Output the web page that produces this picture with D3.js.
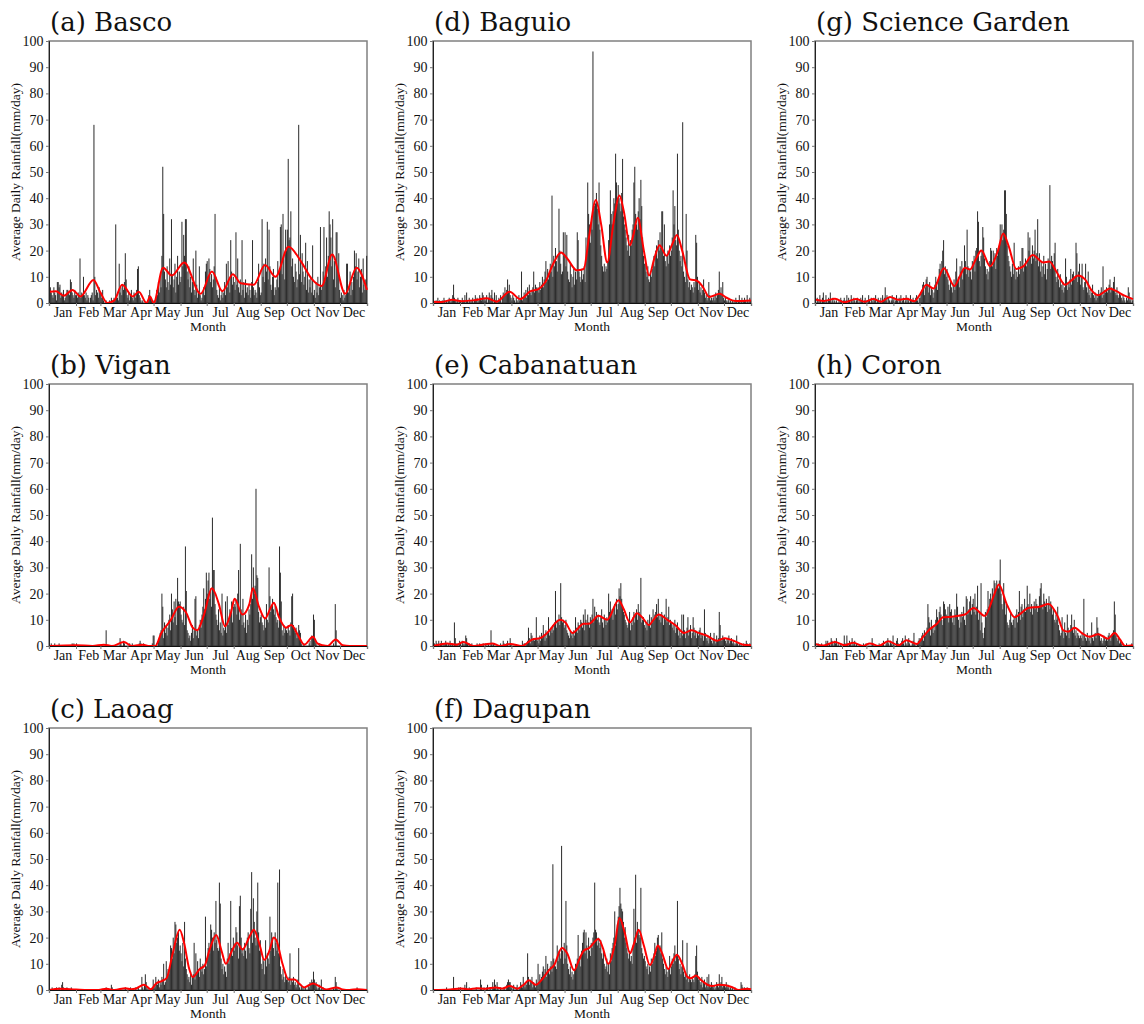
<!DOCTYPE html>
<html>
<head>
<meta charset="utf-8">
<script src="https://cdn.jsdelivr.net/npm/d3@7"></script>
<style>
  body { margin: 0; background: #fff; }
  svg { display: block; }
</style>
</head>
<body>
<svg id="fig" width="1144" height="1024"></svg>
<script>
// month labels and lengths (non-leap year)
const monthNames = ["Jan","Feb","Mar","Apr","May","Jun","Jul","Aug","Sep","Oct","Nov","Dec"];
const monthDays = [31,28,31,30,31,30,31,31,30,31,30,31];
const yTicks = [0,10,20,30,40,50,60,70,80,90,100];

// daily rainfall, one row per month
const bascoRain = [
  [5,6,4,3,2,6,4,3,1,8,8,6,7,2,4,3,5,1,2,3,5,5,4,3,9,8,4,3,2,5,3],
  [3,2,4,3,17,2,4,3,10,3,2,4,1,3,2,0,2,3,4,1,68,10,3,5,4,2,6,4],
  [4,2,5,1,0,0,1,0,0,0,1,0,2,0,1,2,1,30,3,2,1,15,4,6,3,7,5,8,19,9,3],
  [2,4,1,3,5,2,1,4,3,2,5,13,14,3,2,1,0,1,0,0,0,0,0,1,3,5,2,1,0,0],
  [1,0,2,5,3,8,4,10,6,18,52,34,12,9,6,14,8,5,17,7,32,11,6,9,15,4,10,18,7,12,8],
  [10,31,14,26,18,32,32,12,9,14,6,10,4,8,17,5,3,20,7,2,4,14,3,1,2,4,6,3,12,15],
  [16,10,17,13,8,11,6,9,14,34,10,5,3,2,6,1,3,5,2,4,8,3,15,6,16,9,4,24,12,7,10],
  [8,5,27,7,17,6,4,9,3,24,5,8,2,9,4,6,3,7,5,2,8,24,6,3,5,4,2,8,15,6,3],
  [4,32,10,15,8,17,12,31,9,28,14,7,5,10,13,3,6,5,9,16,6,12,29,30,11,34,18,9,28,20],
  [28,55,24,25,35,14,17,10,8,15,12,6,9,68,11,26,8,19,12,7,10,23,5,16,4,9,6,10,4,22,3],
  [5,2,8,4,10,3,6,29,5,7,12,29,8,14,25,10,18,35,30,25,14,32,9,16,6,27,27,12,19,5],
  [2,4,3,1,5,2,3,15,15,4,6,12,3,8,5,10,20,14,19,9,12,17,6,10,13,4,17,7,5,9,18]
];
const viganRain = [
  [0,0,1,0,0,0,1,0,0,0,0,1,0,0,0,0,0,0,0,0,0,0,0,0,0,0,1,0,1,0,0],
  [1,0,0,0,0,0,0,0,0,0,0,0,0,0,0,0,0,0,0,0,0,0,0,0,0,0,0,0],
  [0,0,0,0,0,0,6,0,0,0,0,0,0,0,0,0,0,0,0,0,0,0,3,1,0,0,2,1,0,0,0],
  [0,0,1,0,0,1,0,0,0,0,0,0,0,1,2,1,0,0,1,0,0,0,0,0,0,0,0,0,1,4],
  [4,0,0,1,0,2,3,5,6,20,15,3,9,5,8,4,7,10,12,6,20,14,9,17,11,18,8,26,17,16,17],
  [12,10,9,15,8,38,21,6,5,3,4,2,5,8,3,6,18,19,4,6,3,8,10,7,12,15,22,14,18,28],
  [20,25,28,18,22,15,49,29,29,16,12,10,8,14,6,9,5,20,4,7,6,17,5,19,8,10,14,12,17,9,15],
  [16,15,18,12,20,29,10,39,14,8,18,9,7,12,5,10,8,14,12,16,35,18,30,20,23,60,27,26,13,9,11],
  [12,9,8,6,11,7,16,10,9,30,19,13,15,18,14,12,16,11,9,10,7,38,28,17,6,4,8,5,7,6],
  [5,8,6,4,9,19,20,8,6,5,7,3,4,8,6,5,1,0,0,1,0,0,0,0,0,1,2,0,4,3,12],
  [10,2,1,0,0,0,1,0,0,0,0,0,0,0,0,0,0,0,0,0,0,0,1,0,16,6,0,0,0,0],
  [0,0,0,0,0,0,0,0,0,0,0,0,0,0,0,0,0,0,0,0,0,0,0,0,0,0,0,0,0,0,0]
];
const laoagRain = [
  [0,0,0,1,0,0,0,0,1,0,0,1,0,0,2,3,1,0,0,0,1,0,0,0,0,1,0,0,0,0,0],
  [0,0,0,0,0,0,0,0,0,0,0,0,0,0,0,0,0,0,0,0,0,0,0,0,0,0,0,0],
  [0,0,0,0,0,0,1,0,0,0,0,0,2,1,0,0,0,0,0,0,0,0,0,0,0,0,0,0,1,0,0],
  [0,0,0,1,0,0,0,0,0,1,0,0,1,0,0,0,5,1,0,2,6,3,0,1,0,0,0,0,1,4],
  [2,1,5,3,2,4,1,3,2,5,4,10,2,3,11,5,8,6,9,17,16,12,20,14,26,25,18,20,22,15,17],
  [14,11,18,9,26,12,8,6,4,5,3,7,2,5,6,18,4,14,6,11,8,5,12,9,7,10,6,8,28,9],
  [12,16,18,14,25,23,20,15,22,18,34,19,16,15,41,33,12,8,10,6,9,7,5,12,18,10,14,34,16,13,20],
  [15,18,24,22,17,12,32,36,20,14,16,13,18,15,12,20,22,16,14,31,45,18,35,26,20,17,30,41,22,15,19],
  [10,8,12,11,6,19,9,14,12,10,28,15,22,20,16,13,22,18,15,41,14,46,9,6,4,8,5,3,6,4],
  [4,3,5,14,2,4,3,5,2,3,1,2,4,16,1,0,2,1,0,1,0,1,0,0,2,1,3,2,4,3,7],
  [4,2,3,1,0,1,2,0,4,0,1,0,0,0,0,0,0,0,0,0,0,0,1,0,5,3,1,0,0,0],
  [0,0,0,0,0,0,0,0,0,0,0,0,0,0,0,0,0,0,0,1,0,0,0,0,0,0,0,0,0,0,0]
];
const baguioRain = [
  [1,0,0,1,0,2,0,1,0,0,1,0,2,1,0,1,0,1,2,1,0,1,3,7,2,1,0,1,2,0,1],
  [1,0,2,1,1,3,0,4,1,0,2,1,0,1,2,0,1,3,1,2,0,1,3,2,1,4,3,1],
  [2,1,3,0,2,4,1,3,5,2,0,4,1,3,0,1,2,1,3,0,2,4,3,6,3,5,9,4,7,3,2],
  [1,3,2,1,0,2,1,0,3,1,2,12,1,2,4,3,5,2,6,3,7,4,3,5,6,12,4,7,6,5],
  [6,4,8,5,7,10,6,9,12,16,8,13,9,11,15,12,41,10,18,14,21,16,12,18,36,20,15,11,12,27,18],
  [27,14,26,12,9,8,15,11,6,10,13,7,12,9,27,24,12,10,8,13,9,11,14,8,25,20,46,34,30,23],
  [31,28,96,35,37,38,42,36,30,46,28,22,18,14,12,15,12,14,13,16,24,30,43,34,30,35,40,38,57,46,38],
  [45,40,38,35,42,55,33,30,28,25,22,20,26,18,24,22,28,30,46,52,34,30,28,35,40,32,47,37,25,18,15],
  [15,12,10,14,9,8,12,10,13,15,18,14,20,22,17,24,20,27,21,35,35,18,30,16,14,18,20,15,22,18],
  [20,25,43,30,37,24,22,57,28,20,16,18,14,69,12,10,8,34,20,9,6,8,5,7,6,4,8,6,26,23,10],
  [5,8,4,6,3,5,9,4,2,3,1,2,8,3,1,2,1,2,3,1,4,2,3,5,12,4,6,3,8,2],
  [1,2,1,0,1,2,0,1,0,1,0,1,0,2,1,0,1,3,0,1,2,0,1,2,1,0,3,1,0,2,1]
];
const cabanatuanRain = [
  [0,1,0,2,1,0,2,0,1,2,0,1,0,1,2,1,0,1,0,2,1,0,1,0,9,3,1,0,1,0,2],
  [1,0,2,1,0,1,4,3,1,0,1,0,0,1,0,0,0,0,0,1,0,0,1,0,0,0,1,0],
  [0,1,0,0,1,0,0,6,1,0,1,0,0,0,0,0,0,0,1,0,0,2,1,0,0,1,2,0,0,3,1],
  [0,0,0,0,0,0,0,0,0,0,0,0,2,0,1,1,0,1,2,7,3,1,5,4,2,3,2,3,11,2],
  [3,1,4,2,5,3,8,4,2,6,3,5,11,4,6,7,5,8,6,9,21,7,10,9,12,8,24,11,9,10,7],
  [8,10,6,5,4,3,6,4,5,3,6,4,11,7,5,9,8,6,10,9,7,12,6,14,10,8,12,9,7,11],
  [10,12,18,9,15,11,13,10,12,9,8,11,14,9,7,12,10,8,11,9,20,13,17,12,14,10,15,16,12,18,14],
  [16,22,19,24,18,15,13,12,10,9,8,7,10,13,6,9,8,11,13,9,12,14,10,16,13,12,26,9,10,11,8],
  [7,9,6,10,8,12,7,11,9,14,10,12,13,16,11,18,10,12,9,13,11,8,12,10,18,9,11,15,8,10],
  [9,7,8,6,10,5,7,9,4,6,3,5,12,4,12,6,3,5,7,11,4,6,8,3,5,11,7,4,6,3,5],
  [4,6,7,3,5,4,2,14,5,3,2,4,1,3,5,2,1,3,5,2,1,4,2,3,13,8,3,2,4,3],
  [3,2,1,3,2,4,1,2,3,1,2,1,0,1,4,1,0,1,0,1,0,0,1,0,0,2,1,0,0,1,0]
];
const dagupanRain = [
  [0,0,0,0,0,0,0,0,0,0,0,0,0,0,0,1,0,0,0,0,0,0,0,5,0,0,0,0,0,1,0],
  [1,0,0,0,0,2,0,3,0,0,1,0,0,0,0,0,0,0,1,0,0,0,0,4,2,0,0,1],
  [0,0,1,2,0,0,1,0,0,3,1,4,2,0,3,1,0,0,1,0,0,0,1,0,0,2,3,4,3,3,1],
  [1,0,2,0,0,1,2,0,0,1,3,2,1,5,2,1,3,2,14,5,2,4,3,5,1,3,2,1,4,2],
  [10,3,6,4,5,7,9,6,8,13,5,10,8,6,9,11,7,48,12,10,9,8,17,11,15,14,12,55,15,10,18],
  [12,34,17,10,8,6,9,5,7,4,6,8,10,9,12,21,11,13,9,15,18,22,23,14,22,17,12,20,15,13],
  [18,16,20,22,41,23,22,17,20,18,16,19,14,12,15,10,8,9,12,7,10,6,14,11,16,18,20,30,17,22,25],
  [28,32,39,33,31,30,26,20,24,18,16,14,12,15,11,13,10,17,31,20,44,18,26,23,21,20,39,16,14,12,13],
  [11,9,8,10,6,9,7,12,10,11,14,18,13,15,20,21,16,17,14,22,12,10,8,6,9,7,5,8,13,6],
  [9,12,10,14,17,11,13,34,12,8,10,6,9,19,7,5,6,4,18,5,3,6,4,3,5,4,3,6,13,17,7],
  [4,5,3,2,5,1,3,4,1,2,5,1,6,2,1,3,2,1,2,0,1,3,2,1,6,2,3,5,1,2],
  [2,1,3,1,2,1,0,1,0,1,0,0,1,0,0,0,0,0,0,3,2,1,0,1,0,0,1,0,0,0,0]
];
const scienceGardenRain = [
  [1,0,2,1,0,3,1,0,2,4,1,0,3,1,0,2,1,4,0,1,2,0,1,0,1,0,0,1,0,2,1],
  [0,1,2,0,1,3,0,2,1,0,3,1,0,2,1,0,1,2,0,1,0,2,1,3,0,1,2,0],
  [1,0,3,1,0,2,1,0,2,1,3,0,1,2,0,1,2,0,3,1,2,6,1,3,0,2,1,0,1,3,1],
  [2,0,1,3,1,0,2,1,3,0,1,2,0,1,3,0,2,1,0,3,1,0,2,0,1,2,3,1,0,2],
  [2,4,5,7,8,3,6,9,10,7,4,8,3,6,5,2,4,7,10,8,5,9,13,15,12,16,20,24,11,14,10],
  [13,9,7,5,8,6,4,7,9,5,12,17,8,10,6,14,12,16,9,13,22,16,11,28,14,10,13,12,9,16],
  [15,18,12,20,21,35,31,16,14,18,20,29,25,17,14,11,13,9,12,16,21,20,14,20,17,19,13,21,18,20,22],
  [30,25,30,24,28,43,43,34,22,18,16,14,12,10,15,11,23,13,9,12,10,14,11,16,13,21,21,12,15,17,14],
  [16,27,20,25,18,15,22,17,20,28,16,19,32,14,19,12,16,10,14,18,11,15,9,13,17,16,45,13,18,16],
  [14,19,23,10,8,13,9,6,11,7,5,8,4,6,17,10,5,8,6,9,13,7,11,12,9,10,23,19,8,12,15],
  [7,10,15,6,5,8,15,6,4,12,3,5,2,4,7,3,2,4,1,3,2,5,3,4,6,2,14,3,5,4],
  [6,4,5,7,9,4,6,5,8,10,4,3,6,3,2,4,3,2,1,3,2,1,0,2,1,6,4,1,2,0,1]
];
const coronRain = [
  [1,0,0,1,0,0,0,1,0,0,0,0,2,1,2,0,1,0,3,2,1,0,2,1,3,0,1,0,0,1,0],
  [0,0,4,1,0,4,1,0,2,1,0,3,0,1,2,0,1,0,0,0,0,0,0,0,1,0,0,1],
  [0,0,0,0,0,0,3,1,0,0,0,0,0,0,1,0,0,0,1,2,0,0,1,2,3,1,0,2,1,0,4],
  [1,0,0,2,3,1,0,0,1,2,3,1,0,4,1,0,2,3,1,0,0,1,2,5,1,0,0,1,2,3],
  [2,3,4,5,2,6,4,5,7,16,11,9,4,10,7,5,8,6,10,14,11,9,13,15,12,10,8,17,16,14,12],
  [11,15,9,16,13,14,9,11,8,14,12,20,15,10,7,12,9,13,11,15,10,8,19,18,12,14,17,19,12,16],
  [18,13,20,12,15,23,10,13,6,24,9,5,3,7,13,11,14,21,15,18,20,16,22,19,25,24,21,25,23,22,25],
  [33,20,16,14,24,19,12,16,9,8,7,10,13,9,8,10,11,7,12,14,9,13,21,10,15,16,11,14,18,13,15],
  [23,16,14,20,13,16,12,15,17,14,18,16,13,15,19,22,24,16,14,20,17,15,18,13,16,19,14,17,15,12],
  [14,10,9,12,10,15,8,6,4,5,11,6,3,9,5,4,12,7,3,6,8,12,7,5,10,4,6,3,5,4,3],
  [4,3,5,2,18,4,3,2,5,3,2,4,1,9,3,2,4,5,3,11,7,5,4,2,3,1,2,4,3,2],
  [3,2,4,5,3,2,4,5,6,17,12,4,3,2,3,1,2,1,0,0,0,0,0,1,0,0,0,0,0,1,0]
];

// smoothed curve: [day of year, mm/day]
const bascoSmooth = [[0,4.3],[8,4.5],[17,2.8],[27,5],[36,2.5],[51,8.8],[59,4],[67,0],[75,1],[84,7],[96,2.5],[103,4.3],[112,0],[116,2.5],[120,0],[131,13.5],[141,10.5],[155,15.5],[174,3.5],[187,12],[199,4.5],[211,11],[220,7.5],[235,7],[248,14.5],[260,10],[275,21.5],[289,16],[302,9],[313,6.5],[325,18.5],[340,3.5],[353,13.5],[365,5]];
const viganSmooth = [[0,0],[31,0.3],[50,0],[63,0.5],[72,0],[86,1.5],[95,0],[108,0.5],[115,0],[122,0],[129,5],[140,10],[149,15],[157,13],[165,7],[170,6],[178,12],[187,22],[195,16],[202,7.5],[209,13],[213,18],[222,12],[230,16],[234,22],[241,15],[248,10.5],[255,15],[258,16.5],[264,11],[272,7],[278,8],[286,4],[293,0.5],[303,3.5],[308,1],[314,0.3],[320,0],[329,2.5],[337,0.3],[345,0],[365,0]];
const laoagSmooth = [[0,0],[12,0.5],[31,0.2],[45,0],[57,0],[66,0.5],[75,0],[88,0.7],[94,0.3],[100,0.6],[109,2],[117,0.3],[123,2.5],[130,3.5],[135,4.5],[142,14],[150,23],[155,18],[161,8],[165,5],[173,8],[179,9.5],[184,15],[192,21],[198,15],[203,10],[210,15],[216,18],[222,15.5],[231,21],[235,23],[242,17],[247,11.5],[253,15],[258,20],[261,19],[268,10],[275,4],[282,4],[287,2.5],[293,1],[303,2.5],[310,1.5],[318,0.2],[330,1],[337,0.2],[345,0],[354,0.3],[365,0]];
const baguioSmooth = [[0,0.5],[10,0.4],[22,1.2],[33,0.7],[46,1],[62,1.8],[73,0.5],[88,4.3],[100,1.5],[112,4.5],[121,5.3],[129,8],[138,15],[147,19.3],[154,17],[165,12.5],[173,13],[179,25],[187,39.3],[193,30],[200,15.5],[207,30],[214,41],[219,35],[226,22],[230,26],[235,32.5],[242,20],[248,10.5],[254,17],[260,22],[268,18],[274,22],[280,26],[286,20],[295,9],[303,8.5],[310,6],[317,2.3],[329,3.5],[337,2],[347,0.8],[365,1]];
const cabanatuanSmooth = [[0,0],[16,1],[27,0.5],[35,1.5],[47,0],[60,0.7],[68,1],[77,0],[89,0.8],[102,0],[114,2.5],[123,3],[131,5],[146,10],[152,9],[160,5],[173,8.5],[179,8.5],[190,11.5],[200,10],[213,17.5],[219,14],[226,9],[234,12.5],[240,11],[248,8],[253,10],[259,12],[269,10],[278,8],[288,5],[297,6],[305,5],[314,4],[326,2],[335,3],[345,2],[356,0.5],[365,0.3]];
const dagupanSmooth = [[0,0],[20,0.2],[31,0.6],[40,0.3],[51,0.7],[60,0.5],[72,1],[80,0.6],[88,1.5],[97,0.5],[104,2],[110,3.7],[118,2],[125,4],[133,7.5],[139,9.5],[148,16],[154,14],[162,7.5],[167,11],[173,15],[179,16],[190,19.5],[195,16],[201,10],[209,18],[214,27.5],[220,22],[226,14],[231,18],[236,23],[242,17],[249,9.5],[254,13],[258,17],[263,14],[270,8],[275,11],[280,13.5],[286,10],[292,5],[296,4.5],[302,5.5],[307,4],[315,2],[321,1.5],[328,2],[336,1.8],[344,1],[351,0],[361,0.5],[365,0.3]];
const scienceGardenSmooth = [[0,1.3],[10,0.8],[23,1.6],[34,0.3],[47,1.5],[57,0.5],[67,1.5],[76,0.5],[86,2.3],[96,1.2],[105,1.6],[114,0.7],[120,3],[128,7],[136,5.5],[148,13.3],[160,6.5],[166,10],[172,13.5],[178,12.8],[185,17],[191,20],[201,14],[210,20],[216,26.5],[222,22],[231,13],[239,14],[250,18.3],[262,15.5],[269,15.8],[277,12],[287,7],[294,8.5],[302,10.5],[310,9],[317,5],[325,3],[333,4.5],[338,5.5],[346,4.5],[354,3],[365,1.5]];
const coronSmooth = [[0,0.8],[10,0.2],[23,1.5],[34,0.3],[44,1.2],[55,0],[63,1],[73,0],[84,1.8],[96,0.3],[105,2.2],[117,0.8],[124,3.5],[132,6.5],[140,8.5],[147,11],[157,11.2],[172,12],[182,14.5],[195,11.5],[205,19],[211,23.5],[220,16],[229,11],[245,14.5],[258,15],[268,16],[279,11],[285,6],[291,5.5],[298,7],[306,5],[315,3.5],[325,4.5],[336,2.8],[344,5],[350,2.5],[356,0],[365,0.3]];

const panels = [
  {title: "(a) Basco",          rain: bascoRain,         smooth: bascoSmooth,         col: 0, row: 0},
  {title: "(b) Vigan",          rain: viganRain,         smooth: viganSmooth,         col: 0, row: 1},
  {title: "(c) Laoag",          rain: laoagRain,         smooth: laoagSmooth,         col: 0, row: 2},
  {title: "(d) Baguio",         rain: baguioRain,        smooth: baguioSmooth,        col: 1, row: 0},
  {title: "(e) Cabanatuan",     rain: cabanatuanRain,    smooth: cabanatuanSmooth,    col: 1, row: 1},
  {title: "(f) Dagupan",        rain: dagupanRain,       smooth: dagupanSmooth,       col: 1, row: 2},
  {title: "(g) Science Garden", rain: scienceGardenRain, smooth: scienceGardenSmooth, col: 2, row: 0},
  {title: "(h) Coron",          rain: coronRain,         smooth: coronSmooth,         col: 2, row: 1}
];

// layout
const colLeft = [49, 433, 815];
const rowTop = [41, 384, 728];
const plotW = 318;
const plotH = 262;
const serif = "'Liberation Serif', 'Times New Roman', serif";

const monthStarts = [0].concat(Array.from(d3.cumsum(monthDays)));
const monthMids = monthDays.map((n, i) => monthStarts[i] + n / 2);

const svg = d3.select("#fig");

function drawPanel(p) {
  const left = colLeft[p.col];
  const top = rowTop[p.row];
  const days = p.rain.flat();
  if (days.length != 365) console.warn(p.title, days.length);

  const x = d3.scaleLinear().domain([0, 365]).range([0, plotW]);
  const y = d3.scaleLinear().domain([0, 100]).range([plotH, 0]);

  const g = svg.append("g").attr("transform", `translate(${left},${top})`);

  g.append("rect")
    .attr("width", plotW).attr("height", plotH)
    .attr("fill", "none")
    .attr("stroke", "#808080")
    .attr("stroke-width", 1.5);

  const bw = x(1) - x(0);
  g.append("g").selectAll("rect")
    .data(days)
    .join("rect")
    .attr("x", (d, i) => x(i))
    .attr("width", bw + 0.15)
    .attr("y", d => y(d))
    .attr("height", d => plotH - y(d))
    .attr("fill", "#2f2f2f");

  const line = d3.line()
    .x(d => x(d[0]))
    .y(d => y(d[1]))
    .curve(d3.curveMonotoneX);

  g.append("path")
    .datum(p.smooth)
    .attr("d", line)
    .attr("fill", "none")
    .attr("stroke", "#ff0000")
    .attr("stroke-width", 2);

  // y axis
  const ay = g.append("g")
    .call(d3.axisLeft(y).tickValues(yTicks).tickSize(3).tickPadding(2.5));
  ay.select(".domain").attr("stroke", "#222");
  ay.selectAll(".tick line").attr("stroke", "#777");
  ay.selectAll("text").attr("font-family", serif).attr("font-size", 14).attr("fill", "#111");

  // month boundary ticks
  const axb = g.append("g")
    .attr("transform", `translate(0,${plotH})`)
    .call(d3.axisBottom(x).tickValues(monthStarts).tickSize(3).tickFormat(""));
  axb.select(".domain").attr("stroke", "#111").attr("stroke-width", 1.2);
  axb.selectAll(".tick line").attr("stroke", "#777");

  // month names
  const axm = g.append("g")
    .attr("transform", `translate(0,${plotH})`)
    .call(d3.axisBottom(x).tickValues(monthMids).tickSize(0).tickPadding(4.5)
      .tickFormat((d, i) => monthNames[i]));
  axm.select(".domain").remove();
  axm.selectAll("text").attr("font-family", serif).attr("font-size", 14).attr("fill", "#111");

  g.append("text")
    .attr("x", plotW / 2)
    .attr("y", plotH + 27.5)
    .attr("text-anchor", "middle")
    .attr("font-family", serif)
    .attr("font-size", 13.5)
    .attr("fill", "#111")
    .text("Month");

  g.append("text")
    .attr("transform", `translate(-29,${plotH / 2}) rotate(-90)`)
    .attr("text-anchor", "middle")
    .attr("font-family", serif)
    .attr("font-size", 13.5)
    .attr("fill", "#111")
    .text("Average Daily Rainfall(mm/day)");

  g.append("text")
    .attr("x", 1)
    .attr("y", -10)
    .attr("font-family", "'DejaVu Serif', serif")
    .attr("font-size", 26)
    .attr("fill", "#111")
    .text(p.title);
}

panels.forEach(drawPanel);
</script>
</body>
</html>
